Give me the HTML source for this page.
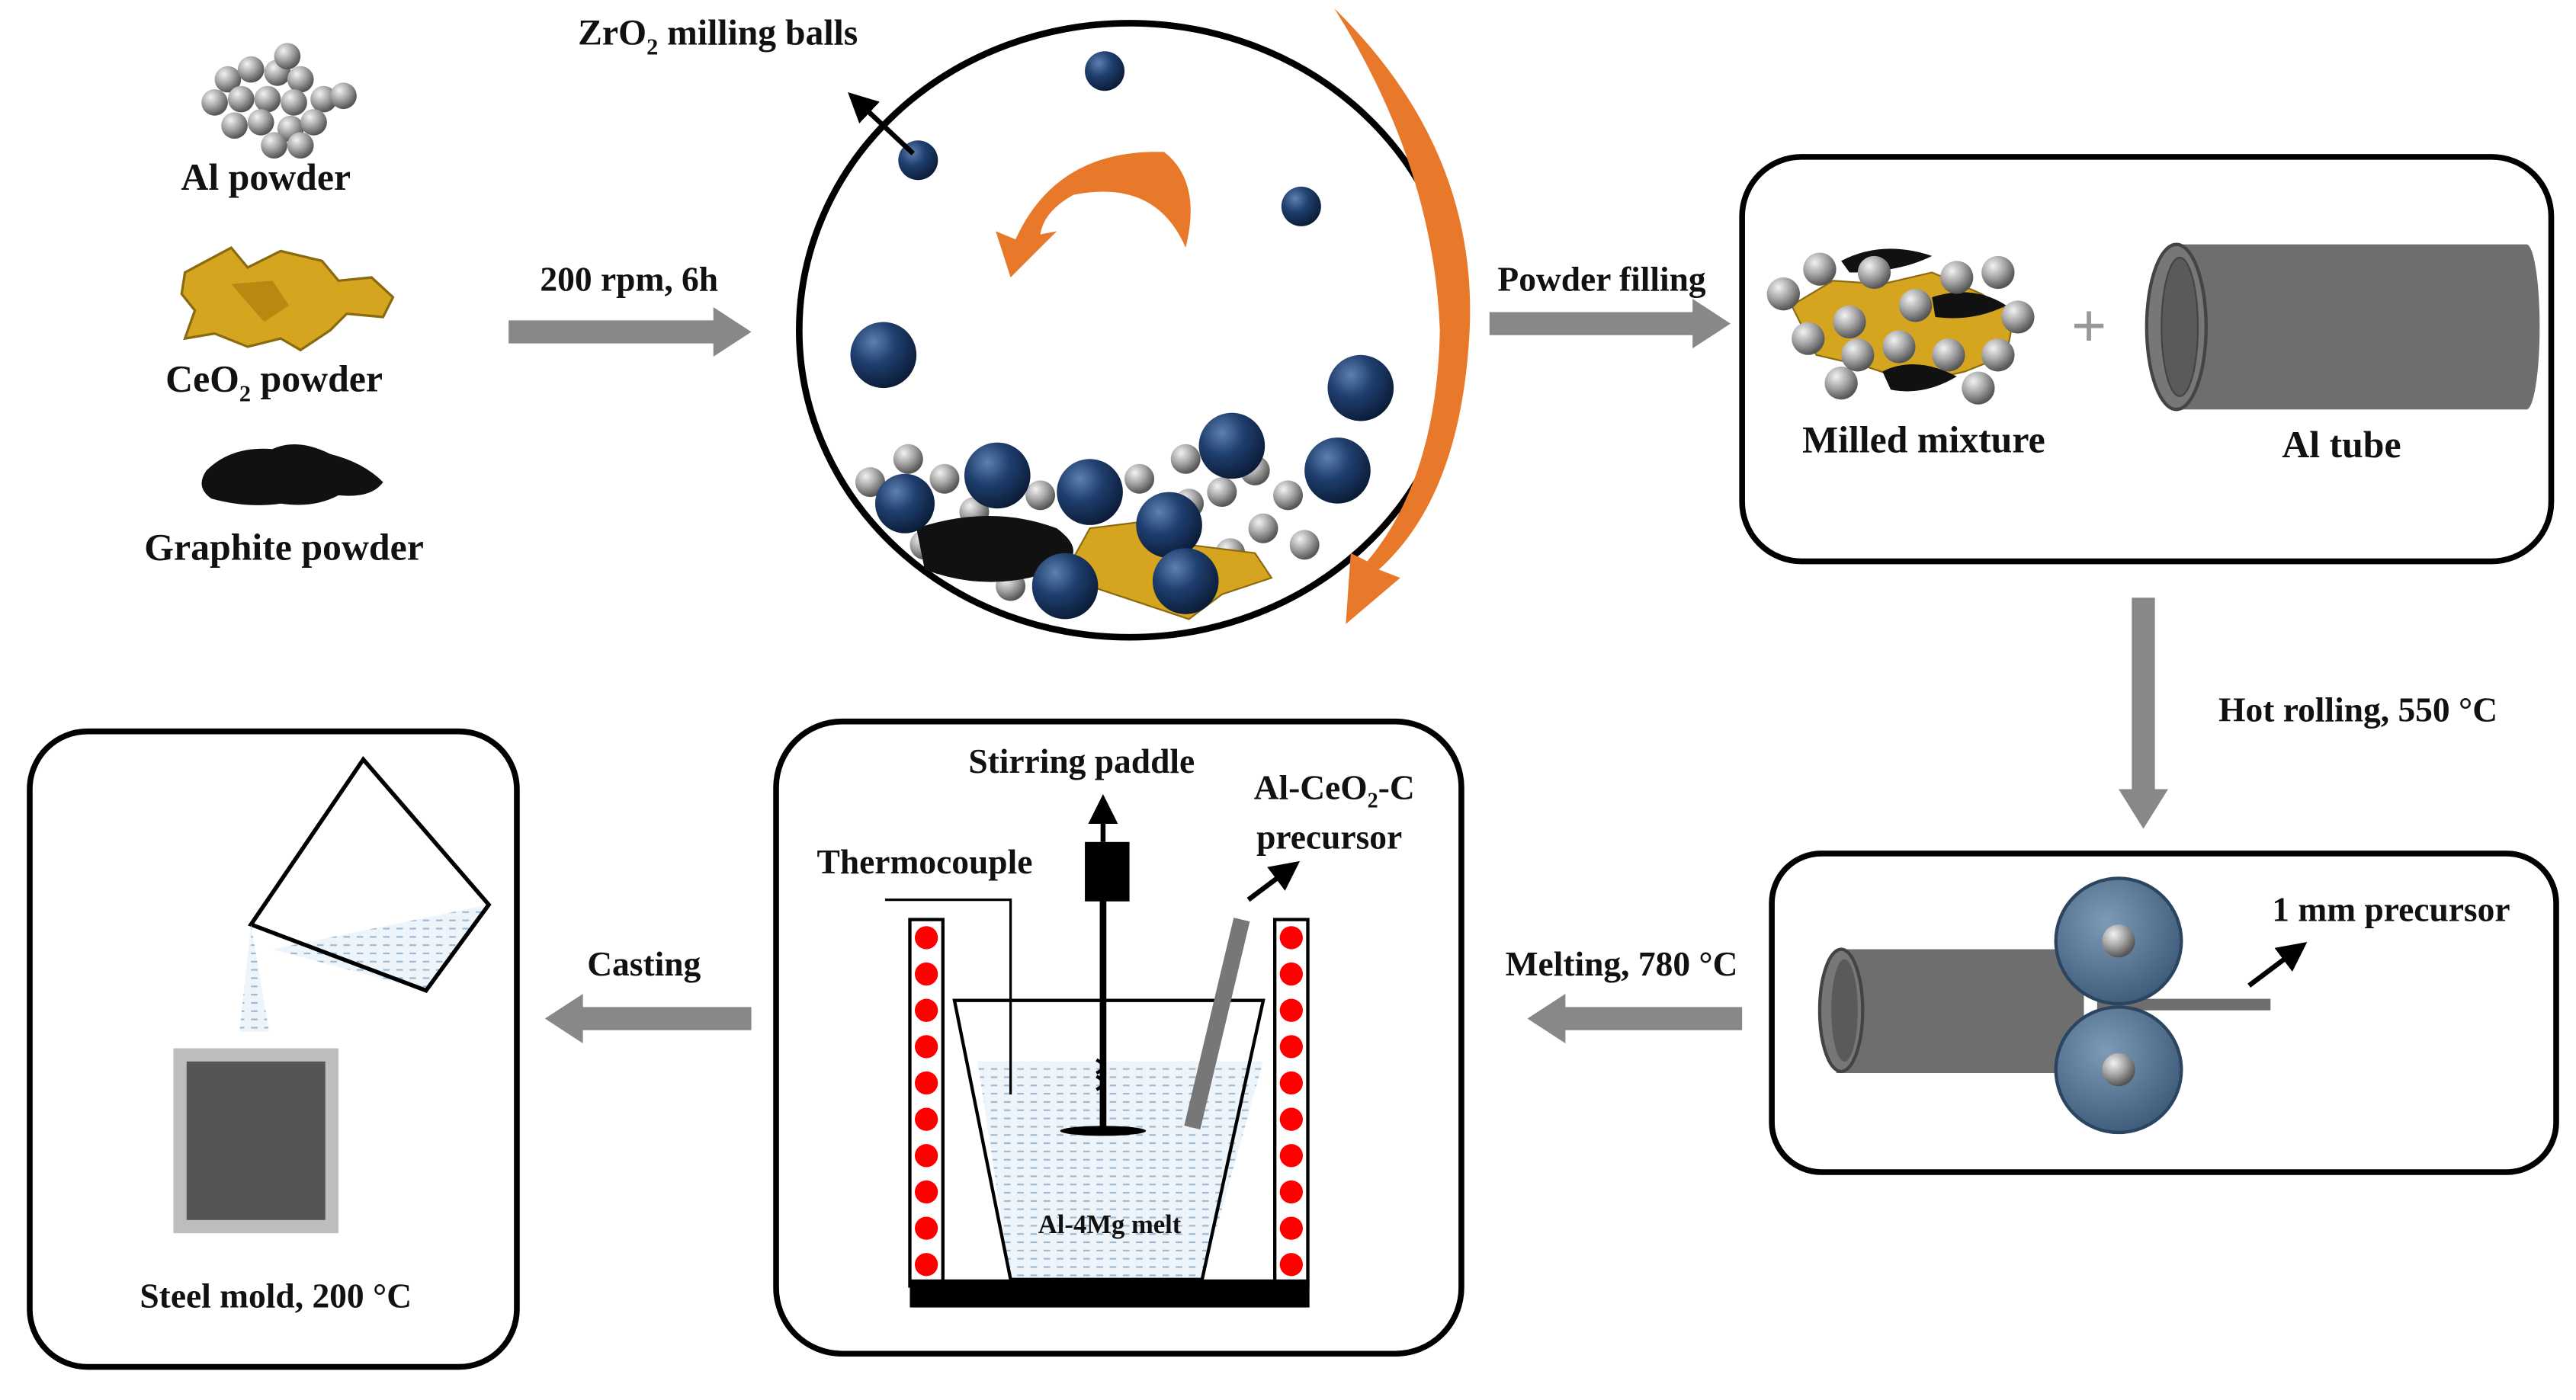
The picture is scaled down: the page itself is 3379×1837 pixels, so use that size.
<!DOCTYPE html>
<html><head><meta charset="utf-8"><style>
html,body{margin:0;padding:0;background:#fff;}
svg{display:block;}
text{font-family:"Liberation Serif",serif;font-weight:bold;fill:#111;}
</style></head><body>
<svg width="3379" height="1837" viewBox="0 0 1560 848" xmlns="http://www.w3.org/2000/svg">
<defs>
<radialGradient id="gs" cx="0.35" cy="0.3" r="0.7"><stop offset="0" stop-color="#f2f2f2"/><stop offset="0.5" stop-color="#a8a8a8"/><stop offset="1" stop-color="#555"/></radialGradient>
<radialGradient id="bs" cx="0.35" cy="0.3" r="0.75"><stop offset="0" stop-color="#5d80b0"/><stop offset="0.45" stop-color="#1f3f6e"/><stop offset="1" stop-color="#0a1a35"/></radialGradient>
<radialGradient id="rl" cx="0.4" cy="0.35" r="0.7"><stop offset="0" stop-color="#7d9bb5"/><stop offset="1" stop-color="#3c5a78"/></radialGradient>
<pattern id="melt" width="8" height="5" patternUnits="userSpaceOnUse"><rect width="8" height="5" fill="#eef5fa"/><rect x="0" y="2" width="4" height="1" fill="#9fb8cf"/></pattern>
<marker id="ah" markerWidth="6" markerHeight="6" refX="3" refY="3" orient="auto"><path d="M0,0 L6,3 L0,6 z" fill="#000"/></marker>
</defs>

<!-- Left powders -->
<g>
<circle cx="138" cy="48" r="8" fill="url(#gs)"/><circle cx="152" cy="42" r="8" fill="url(#gs)"/><circle cx="168" cy="44" r="8" fill="url(#gs)"/><circle cx="182" cy="48" r="8" fill="url(#gs)"/><circle cx="174" cy="34" r="8" fill="url(#gs)"/>
<circle cx="130" cy="62" r="8" fill="url(#gs)"/><circle cx="146" cy="60" r="8" fill="url(#gs)"/><circle cx="162" cy="60" r="8" fill="url(#gs)"/><circle cx="178" cy="62" r="8" fill="url(#gs)"/><circle cx="196" cy="60" r="8" fill="url(#gs)"/><circle cx="208" cy="58" r="8" fill="url(#gs)"/>
<circle cx="142" cy="76" r="8" fill="url(#gs)"/><circle cx="158" cy="74" r="8" fill="url(#gs)"/><circle cx="176" cy="78" r="8" fill="url(#gs)"/><circle cx="190" cy="74" r="8" fill="url(#gs)"/><circle cx="166" cy="88" r="8" fill="url(#gs)"/><circle cx="182" cy="88" r="8" fill="url(#gs)"/>
</g>
<text x="161" y="115" font-size="23" text-anchor="middle">Al powder</text>
<path d="M112,165 L140,150 L150,162 L170,152 L195,158 L205,170 L225,168 L238,180 L232,192 L210,190 L200,200 L182,212 L170,205 L150,210 L130,202 L112,205 L118,188 L110,178 z" fill="#d6a520" stroke="#8a6a10" stroke-width="1.5"/>
<path d="M140,172 L165,170 L175,185 L160,195 z" fill="#b88910"/>
<text x="166" y="237" font-size="23" text-anchor="middle">CeO<tspan font-size="14" dy="6">2</tspan><tspan dy="-6"> powder</tspan></text>
<path d="M125,285 Q140,270 165,272 Q180,265 200,275 Q220,280 232,292 Q225,302 205,300 Q190,308 170,305 Q150,308 128,302 Q118,295 125,285z" fill="#111"/>
<text x="172" y="339" font-size="23" text-anchor="middle">Graphite powder</text>

<!-- arrow 200rpm -->
<text x="381" y="176" font-size="21" text-anchor="middle">200 rpm, 6h</text>
<path d="M308,194 L432,194 L432,186 L455,201 L432,216 L432,208 L308,208 z" fill="#888"/>

<!-- milling jar -->
<ellipse cx="684" cy="200" rx="200" ry="186" fill="#fff" stroke="#000" stroke-width="4"/>
<path d="M808,5 Q895,90 890,200 Q885,300 835,345 L848,350 L815,378 L818,335 L828,340 Q870,290 872,200 Q868,100 808,5 z" fill="#e8782a"/>
<path d="M615,145 Q640,90 705,92 Q728,110 718,150 Q700,108 650,118 Q632,128 630,142 L640,140 L612,168 L603,140 z" fill="#e8782a"/>
<circle cx="669" cy="43" r="12" fill="url(#bs)"/><circle cx="556" cy="97" r="12" fill="url(#bs)"/><circle cx="788" cy="125" r="12" fill="url(#bs)"/>
<circle cx="535" cy="215" r="20" fill="url(#bs)"/><circle cx="824" cy="235" r="20" fill="url(#bs)"/>
<g fill="url(#gs)">
<circle cx="527" cy="292" r="9"/><circle cx="550" cy="278" r="9"/><circle cx="572" cy="290" r="9"/><circle cx="590" cy="310" r="9"/><circle cx="630" cy="300" r="9"/><circle cx="690" cy="290" r="9"/><circle cx="718" cy="278" r="9"/><circle cx="740" cy="298" r="9"/><circle cx="760" cy="285" r="9"/><circle cx="780" cy="300" r="9"/><circle cx="765" cy="320" r="9"/><circle cx="745" cy="335" r="9"/><circle cx="790" cy="330" r="9"/><circle cx="612" cy="355" r="9"/><circle cx="560" cy="330" r="9"/><circle cx="720" cy="305" r="9"/>
</g>
<path d="M555,320 Q600,305 640,320 Q660,335 640,345 Q600,360 560,345 z" fill="#111"/>
<path d="M660,320 L700,315 L720,330 L760,335 L770,350 L740,360 L720,375 L690,365 L660,355 L650,338 z" fill="#d6a520" stroke="#8a6a10"/>
<g fill="url(#bs)">
<circle cx="548" cy="305" r="18"/><circle cx="604" cy="288" r="20"/><circle cx="660" cy="298" r="20"/><circle cx="708" cy="318" r="20"/><circle cx="746" cy="270" r="20"/><circle cx="810" cy="285" r="20"/><circle cx="645" cy="355" r="20"/><circle cx="718" cy="352" r="20"/>
</g>
<text x="350" y="27" font-size="22">ZrO<tspan font-size="14" dy="6">2</tspan><tspan dy="-6"> milling balls</tspan></text>
<line x1="553" y1="93" x2="520" y2="62" stroke="#000" stroke-width="3" marker-end="url(#ah)"/>

<!-- Powder filling -->
<text x="970" y="176" font-size="21" text-anchor="middle">Powder filling</text>
<path d="M902,189 L1025,189 L1025,181 L1048,196 L1025,211 L1025,203 L902,203 z" fill="#888"/>

<!-- Box 1 -->
<rect x="1055" y="95" width="490" height="245" rx="36" fill="#fff" stroke="#000" stroke-width="3.5"/>
<path d="M1085,185 L1110,170 L1140,172 L1170,165 L1200,178 L1220,190 L1215,215 L1190,225 L1160,232 L1130,222 L1100,215 z" fill="#d6a520" stroke="#8a6a10"/>
<path d="M1115,158 Q1140,145 1170,155 Q1150,165 1120,165 z M1170,180 Q1195,172 1215,185 Q1195,195 1172,192 z M1140,225 Q1160,215 1185,228 Q1165,240 1145,236 z" fill="#111"/>
<g fill="url(#gs)">
<circle cx="1080" cy="178" r="10"/><circle cx="1102" cy="163" r="10"/><circle cx="1135" cy="165" r="10"/><circle cx="1160" cy="185" r="10"/><circle cx="1185" cy="168" r="10"/><circle cx="1210" cy="165" r="10"/><circle cx="1222" cy="192" r="10"/><circle cx="1095" cy="205" r="10"/><circle cx="1120" cy="195" r="10"/><circle cx="1150" cy="210" r="10"/><circle cx="1180" cy="215" r="10"/><circle cx="1210" cy="215" r="10"/><circle cx="1115" cy="232" r="10"/><circle cx="1198" cy="235" r="10"/><circle cx="1125" cy="215" r="10"/>
</g>
<text x="1165" y="274" font-size="23" text-anchor="middle">Milled mixture</text>
<text x="1265" y="210" font-size="38" text-anchor="middle" style="fill:#999">+</text>
<rect x="1315" y="148" width="215" height="100" fill="#6e6e6e"/>
<ellipse cx="1530" cy="198" rx="8" ry="50" fill="#6e6e6e"/>
<ellipse cx="1318" cy="198" rx="18" ry="50" fill="#777" stroke="#444" stroke-width="2"/>
<ellipse cx="1320" cy="198" rx="11" ry="42" fill="#5a5a5a" stroke="#444" stroke-width="1"/>
<text x="1418" y="277" font-size="23" text-anchor="middle">Al tube</text>

<!-- Hot rolling -->
<path d="M1291,362 L1305,362 L1305,478 L1313,478 L1298,502 L1283,478 L1291,478 z" fill="#888"/>
<text x="1428" y="437" font-size="21" text-anchor="middle">Hot rolling, 550 °C</text>

<!-- Box 2 -->
<rect x="1073" y="517" width="475" height="193" rx="30" fill="#fff" stroke="#000" stroke-width="3.5"/>
<rect x="1112" y="575" width="150" height="75" fill="#6e6e6e"/>
<ellipse cx="1115" cy="612" rx="13" ry="37" fill="#777" stroke="#444" stroke-width="2"/>
<ellipse cx="1117" cy="612" rx="8" ry="31" fill="#5a5a5a"/>
<rect x="1270" y="605" width="105" height="7" fill="#6e6e6e"/>
<circle cx="1283" cy="570" r="38" fill="url(#rl)" stroke="#2b4560" stroke-width="2"/>
<circle cx="1283" cy="570" r="10" fill="url(#gs)"/>
<circle cx="1283" cy="648" r="38" fill="url(#rl)" stroke="#2b4560" stroke-width="2"/>
<circle cx="1283" cy="648" r="10" fill="url(#gs)"/>
<line x1="1362" y1="597" x2="1390" y2="576" stroke="#000" stroke-width="3" marker-end="url(#ah)"/>
<text x="1448" y="558" font-size="21" text-anchor="middle">1 mm precursor</text>

<!-- Melting -->
<text x="982" y="591" font-size="21" text-anchor="middle">Melting, 780 °C</text>
<path d="M1055,610 L948,610 L948,602 L925,617 L948,632 L948,624 L1055,624 z" fill="#888"/>

<!-- Box 3 -->
<rect x="470" y="437" width="415" height="383" rx="40" fill="#fff" stroke="#000" stroke-width="3.5"/>
<text x="655" y="468" font-size="21" text-anchor="middle">Stirring paddle</text>
<text x="808" y="484" font-size="21" text-anchor="middle">Al-CeO<tspan font-size="13" dy="5">2</tspan><tspan dy="-5">-C</tspan></text>
<text x="805" y="514" font-size="21" text-anchor="middle">precursor</text>
<text x="560" y="529" font-size="21" text-anchor="middle">Thermocouple</text>
<line x1="756" y1="545" x2="780" y2="527" stroke="#000" stroke-width="3" marker-end="url(#ah)"/>
<rect x="551" y="557" width="20" height="222" fill="#fff" stroke="#000" stroke-width="2"/>
<rect x="772" y="557" width="20" height="222" fill="#fff" stroke="#000" stroke-width="2"/>
<g fill="#f00">
<circle cx="561" cy="568" r="7"/><circle cx="561" cy="590" r="7"/><circle cx="561" cy="612" r="7"/><circle cx="561" cy="634" r="7"/><circle cx="561" cy="656" r="7"/><circle cx="561" cy="678" r="7"/><circle cx="561" cy="700" r="7"/><circle cx="561" cy="722" r="7"/><circle cx="561" cy="744" r="7"/><circle cx="561" cy="766" r="7"/>
<circle cx="782" cy="568" r="7"/><circle cx="782" cy="590" r="7"/><circle cx="782" cy="612" r="7"/><circle cx="782" cy="634" r="7"/><circle cx="782" cy="656" r="7"/><circle cx="782" cy="678" r="7"/><circle cx="782" cy="700" r="7"/><circle cx="782" cy="722" r="7"/><circle cx="782" cy="744" r="7"/><circle cx="782" cy="766" r="7"/>
</g>
<rect x="551" y="775" width="242" height="17" fill="#000"/>
<path d="M592,643 L765,643 L728,775 L612,775 z" fill="url(#melt)"/>
<path d="M578,606 L765,606 L728,775 L612,775 z" fill="none" stroke="#000" stroke-width="2"/>
<polyline points="536,545 612,545 612,663" fill="none" stroke="#000" stroke-width="1.5"/>
<line x1="668" y1="545" x2="668" y2="685" stroke="#000" stroke-width="4"/>
<rect x="657" y="510" width="27" height="36" fill="#000"/>
<line x1="668" y1="510" x2="668" y2="490" stroke="#000" stroke-width="3" marker-end="url(#ah)"/>
<ellipse cx="668" cy="685" rx="26" ry="3" fill="#000"/>
<path d="M664,650 q8,-4 0,-8 M664,660 q8,-4 0,-8" stroke="#000" stroke-width="2" fill="none"/>
<line x1="752" y1="557" x2="722" y2="683" stroke="#777" stroke-width="10"/>
<text x="672" y="747" font-size="16" text-anchor="middle">Al-4Mg melt</text>

<!-- Casting -->
<text x="390" y="591" font-size="21" text-anchor="middle">Casting</text>
<path d="M455,610 L353,610 L353,602 L330,617 L353,632 L353,624 L455,624 z" fill="#888"/>

<!-- Box 4 -->
<rect x="18" y="443" width="295" height="385" rx="35" fill="#fff" stroke="#000" stroke-width="3.5"/>
<path d="M165,575 L258,600 L296,548 Z" fill="url(#melt)"/>
<polygon points="152,560 220,460 296,548 258,600" fill="none" stroke="#000" stroke-width="2.5"/>
<path d="M152,560 L145,625 L163,625 Z" fill="url(#melt)"/>
<rect x="105" y="635" width="100" height="112" fill="#bdbdbd"/>
<rect x="113" y="643" width="84" height="96" fill="#555"/>
<text x="167" y="792" font-size="21" text-anchor="middle">Steel mold, 200 °C</text>
</svg>
</body></html>
